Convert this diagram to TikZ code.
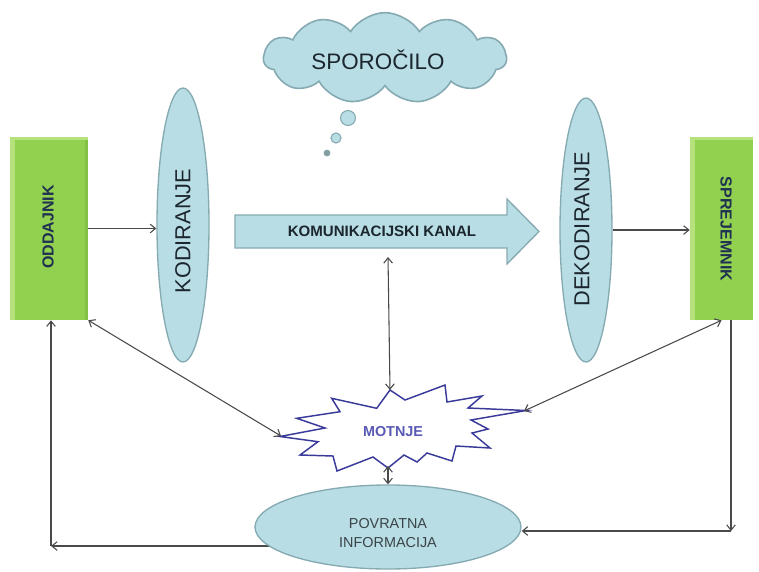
\documentclass[tikz,border=0pt]{standalone}
\usepackage{fontspec}
\setmainfont{Liberation Sans}
\usetikzlibrary{shapes.geometric,shapes.symbols,arrows.meta}
\definecolor{boxgreen}{HTML}{92D050}
\definecolor{boxlight}{HTML}{B6E27E}
\definecolor{boxdark}{HTML}{84C044}
\definecolor{aqua}{HTML}{B9DDE5}
\definecolor{aquaedge}{HTML}{86AAB2}
\definecolor{navy}{HTML}{1F3050}
\definecolor{darktxt}{HTML}{1C262E}
\definecolor{linegray}{HTML}{4A4A4A}
\definecolor{starblue}{HTML}{3A3A9A}
\definecolor{startext}{HTML}{5A5AB5}
\definecolor{povtxt}{HTML}{3A4448}
\begin{document}
\begin{tikzpicture}[x=0.75pt,y=-0.75pt,
  greenbox/.style={rectangle, fill=boxgreen, draw=none, inner sep=0pt},
  aquaell/.style={ellipse, draw=aquaedge, fill=aqua, line width=1pt, inner sep=0pt},
  tipA/.tip={Straight Barb[length=4pt,width=6.5pt]},
  arr/.style={draw=linegray, line width=0.8pt, -tipA},
  darr/.style={draw=linegray, line width=0.8pt, tipA-tipA},
  boxtxt/.style={font=\bfseries\fontsize{12}{14}\selectfont, text=navy, inner sep=0pt},
  elltxt/.style={font=\fontsize{16.3}{19}\selectfont, text=darktxt, inner sep=0pt}
]
\useasboundingbox (0,0) rectangle (759,571);
\fill[white] (0,0) rectangle (759,571);

% named coordinates for connectors
\coordinate (cL) at (51,546);
\coordinate (cR) at (731,531);
\coordinate (kB) at (388,257);
\coordinate (sT) at (390,390);
\coordinate (sL) at (281,436);
\coordinate (sR) at (524,411);
\coordinate (sB) at (388,466);

% sender / receiver boxes
\node[greenbox, minimum width=58.5pt, minimum height=137.25pt] (odd) at (49,228.5) {};
\fill[boxdark] (85,139) rectangle (88,320);
\fill[boxlight] (10,137) rectangle (88,140);
\fill[boxlight] (10,137) rectangle (15,320);
\node[boxtxt, rotate=90] (oddt) at (48,227) {ODDAJNIK};

\node[greenbox, minimum width=47.25pt, minimum height=137.25pt] (sprej) at (721.5,228.5) {};
\fill[boxlight] (690,137) rectangle (753,140);
\fill[boxlight] (690,137) rectangle (695,320);
\node[boxtxt, rotate=-90] (sprejt) at (726,229) {SPREJEMNIK};

% coding / decoding ellipses
\node[aquaell, minimum width=39pt, minimum height=205.5pt] (kod) at (183,225) {};
\node[elltxt, rotate=90] (kodt) at (183,231) {KODIRANJE};
\node[aquaell, minimum width=39pt, minimum height=198pt] (dek) at (586,230) {};
\node[elltxt, rotate=90] (dekt) at (582,229) {DEKODIRANJE};

% message cloud
\node[cloud, cloud puffs=11, cloud puff arc=115, cloud ignores aspect,
      draw=aquaedge, fill=aqua, line width=1.2pt, inner sep=0pt,
      minimum width=182pt, minimum height=68pt] (spor) at (385,58) {};
\node[font=\fontsize{16.8}{19}\selectfont, text=darktxt, inner sep=0pt] (sport) at (378,60) {SPOROČILO};
\draw[aquaedge, fill=aqua, line width=0.8pt] (348,118) circle[radius=5.6pt];
\draw[aquaedge, fill=aqua, line width=0.8pt] (336,138) circle[radius=3.8pt];
\draw[aquaedge!80!gray, fill=aquaedge!70!gray, line width=0.6pt] (327,153) circle[radius=2.2pt];

% channel arrow
\draw[aquaedge, fill=aqua, line width=1pt, line join=miter]
  (235,215) -- (507,215) -- (507,199) -- (539,231.5) -- (507,264) -- (507,248) -- (235,248) -- cycle;
\node[font=\bfseries\fontsize{11.3}{13}\selectfont, text=darktxt, inner sep=0pt] (kanal) at (382,231) {KOMUNIKACIJSKI KANAL};

% connectors behind the feedback ellipse
\draw[arr] (cL -| 388,0) -- (cL);

% feedback ellipse
\node[aquaell, minimum width=199.5pt, minimum height=63pt] (pov) at (388,527) {};
\node[font=\fontsize{10.8}{14.2}\selectfont, text=povtxt, align=center, inner sep=0pt] (povt) at (388,533) {POVRATNA\\INFORMACIJA};

% noise star
\draw[starblue, line width=1.1pt, fill=white, line join=miter]
  (390,390) -- (405,400) -- (445,385) -- (447,402) -- (482,396) -- (468,408)
  -- (526,410.5) -- (471,420) -- (488,429) -- (472,433) -- (490,448) -- (456,446)
  -- (452,461) -- (427,453) -- (417,462) -- (404,455) -- (388,468) -- (373,457)
  -- (337,471) -- (333,456) -- (300,455) -- (318,441.7) -- (280,436.5) -- (325,428)
  -- (296.7,418.3) -- (340,411.7) -- (331.7,398.3) -- (376.7,408.3) -- cycle;
\node[font=\bfseries\fontsize{10.8}{13}\selectfont, text=startext, inner sep=0pt] (motnje) at (393,432) {MOTNJE};

% connectors
\draw[arr] (odd.east) -- (odd.east -| kod.west);
\draw[arr] (dek.east) -- (dek.east -| sprej.west);
\draw[darr] (kB) -- (sT);
\draw[darr] (odd.south east) -- (sL);
\draw[darr] (sprej.south) -- (sR);
\draw[darr] (sB) -- (pov.north);
\draw[arr] (cL) -- (cL |- odd.south);
\draw[arr] (sprej.south -| cR) -- (cR);
\draw[arr] (cR) -- (cR -| pov.east);
\end{tikzpicture}
\end{document}
